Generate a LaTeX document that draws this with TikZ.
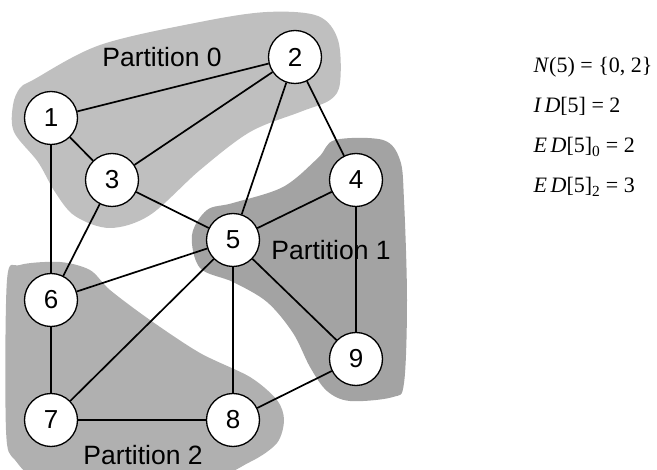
\documentclass[tikz,border=0pt]{standalone}
\usepackage{fontspec}
\setmainfont{Liberation Serif}
\newfontfamily\labelfont{Liberation Sans}
\begin{document}
\begin{tikzpicture}[x=1pt,y=-1pt,
  vertex/.style={circle,draw,line width=1.3pt,fill=white,minimum size=53pt,inner sep=0pt,font=\labelfont\fontsize{26}{26}\selectfont},
  edge/.style={line width=1.7pt},
  partlabel/.style={anchor=base,font=\labelfont\fontsize{26.5}{26.5}\selectfont},
  region/.style={draw=none},
  formula/.style={anchor=base west,font=\fontsize{22}{22}\selectfont}]
\useasboundingbox (0,0) rectangle (657,470);
\clip (0,0) rectangle (657,470);

% partition regions
\fill[region,gray!50] plot[smooth cycle,tension=0.55] coordinates {
  (33,80) (100,45) (200,22) (267,12) (318,16) (338,40) (340,83) (330,100)
  (300,112) (250,132) (200,170) (150,215) (110,228) (75,216) (55,192)
  (38,162) (14,132) (13,105) (20,88)};
\fill[region,gray!72] plot[smooth cycle,tension=0.55] coordinates {
  (318,158) (335,140) (383,140) (400,160) (404,200) (407,300) (404,383)
  (393,397) (350,401) (327,391) (310,367) (293,333) (267,302) (233,282)
  (200,268) (192,235) (207,210) (233,203) (283,187)};
\fill[region,gray!62] plot[smooth cycle,tension=0.5] coordinates {
  (7,280) (20,265) (60,262) (90,270) (110,290) (150,320) (200,353)
  (250,377) (277,400) (284,420) (277,443) (250,462) (200,480) (50,480)
  (15,460) (6,430)};

% partition names
\node[partlabel] (p0) at (162,67) {Partition 0};
\node[partlabel] (p1) at (331,260) {Partition 1};
\node[partlabel] (p2) at (143,465) {Partition 2};

% vertices
\node[vertex] (n1) at (51,118) {1};
\node[vertex] (n2) at (295,57) {2};
\node[vertex] (n3) at (112,180) {3};
\node[vertex] (n4) at (356,180) {4};
\node[vertex] (n5) at (233,240) {5};
\node[vertex] (n6) at (51,300) {6};
\node[vertex] (n7) at (51,420) {7};
\node[vertex] (n8) at (233,420) {8};
\node[vertex] (n9) at (356,359) {9};

% edges
\foreach \a/\b in {n1/n2,n1/n3,n1/n6,n2/n3,n2/n5,n2/n4,n3/n5,n3/n6,n4/n5,
                   n4/n9,n5/n6,n5/n7,n5/n8,n5/n9,n6/n7,n7/n8,n8/n9}
  \draw[edge] (\a) -- (\b);

% quantities for vertex 5
\node[formula] (f1) at (530,73) {\textit{N}(5) = \{0, 2\}};
\node[formula] (f2) at (530,113) {\textit{I\,D}[5] = 2};
\node[formula] (f3) at (530,153) {\textit{E\,D}[5]\textsubscript{0} = 2};
\node[formula] (f4) at (530,193) {\textit{E\,D}[5]\textsubscript{2} = 3};
\end{tikzpicture}
\end{document}
